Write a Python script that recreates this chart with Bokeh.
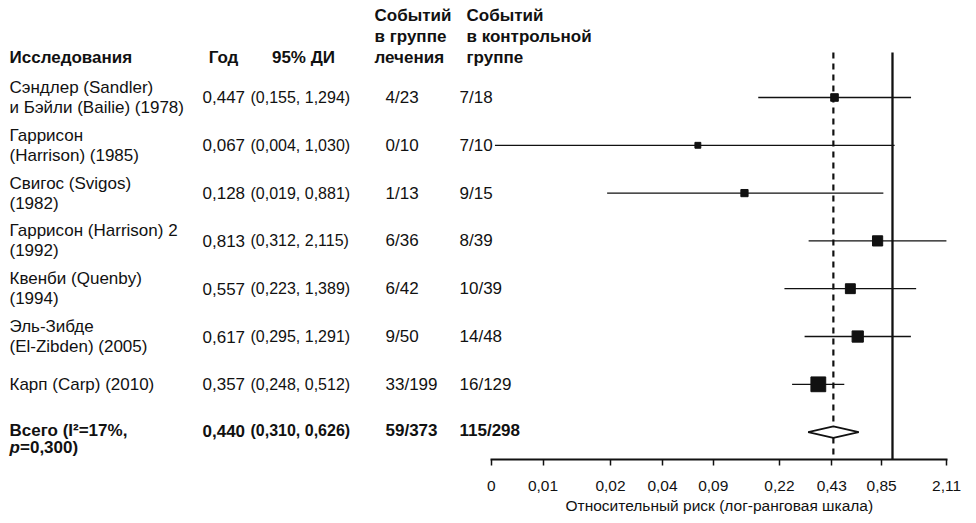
import math
from bokeh.plotting import figure
from bokeh.models import Range1d, FixedTicker, ColumnDataSource, LinearScale, Title
from bokeh.embed import file_html
from bokeh.resources import INLINE
from bokeh.core.properties import value

# ---------------- data ----------------
study_line1 = ["Сэндлер (Sandler)", "Гаррисон", "Свигос (Svigos)", "Гаррисон (Harrison) 2",
               "Квенби (Quenby)", "Эль-Зибде", "Карп (Carp) (2010)"]
study_line2 = ["и Бэйли (Bailie) (1978)", "(Harrison) (1985)", "(1982)", "(1992)",
               "(1994)", "(El-Zibden) (2005)", ""]
rr = [0.447, 0.067, 0.128, 0.813, 0.557, 0.617, 0.357]
ci_lo = [0.155, 0.004, 0.019, 0.312, 0.223, 0.295, 0.248]
ci_hi = [1.294, 1.030, 0.881, 2.115, 1.389, 1.291, 0.512]
events_trt = ["4/23", "0/10", "1/13", "6/36", "6/42", "9/50", "33/199"]
events_ctl = ["7/18", "7/10", "9/15", "8/39", "10/39", "14/48", "16/129"]
weights = [10, 6, 9, 18, 17, 22, 38]          # estimated relative study weights (%)

pooled_rr, pooled_lo, pooled_hi = 0.440, 0.310, 0.626
pooled_trt, pooled_ctl = "59/373", "115/298"
total_line1 = "Всего (I²=17%,"
total_p_letter = "p"
total_p_rest = "=0,300)"

head_study = "Исследования"
head_rr = "Год"
head_ci = "95% ДИ"
head_trt = ["Событий", "в группе", "лечения"]
head_ctl = ["Событий", "в контрольной", "группе"]

tick_pos = [0.0038, 0.0078, 0.0199, 0.041, 0.083, 0.208, 0.43, 0.86, 2.12]
tick_labels = ["0", "0,01", "0,02", "0,04", "0,09", "0,22", "0,43", "0,85", "2,11"]
x_title = "Относительный риск (лог-ранговая шкала)"

# ---------------- layout constants ----------------
FONT = value("Liberation Sans")
FS = "17px"
INK = "#111111"
n = len(rr)
total_row = n

FRAME_W, FRAME_H = 947, 459
BORDER_R, BORDER_B = 20, 62
PX_PER_LN = 72.0
X_MIN, X_MAX = 0.00376, 2.147            # visible axis extent
x_start = X_MAX * math.exp(-FRAME_W / PX_PER_LN)   # log range reaching the frame's left edge
TITLE_OFFSET = 565                       # left edge of the axis title, px

y_rng = Range1d(start=7.573, end=-2.029)
HEAD_Y = [-1.715, -1.276, -0.837]
X_NAME, X_RR, X_CI, X_TRT, X_CTL = 9, 202, 250, 385, 459
X_HEAD_RR, X_HEAD_CI, X_HEAD_TRT, X_HEAD_CTL = 223, 303, 374, 466


def fmt(v):
    return f"{v:.3f}".replace(".", ",")


rows = list(range(n))

p = figure(width=FRAME_W + BORDER_R, height=FRAME_H + BORDER_B, x_axis_type="log",
           x_range=Range1d(x_start, X_MAX), y_range=y_rng,
           output_backend="svg", toolbar_location=None,
           min_border_left=0, min_border_right=BORDER_R, min_border_top=0,
           min_border_bottom=BORDER_B)
p.extra_x_ranges = {"tbl": Range1d(0, FRAME_W)}
p.extra_x_scales = {"tbl": LinearScale()}
p.yaxis.visible = False
p.grid.visible = False
p.outline_line_color = None


def txt(xs, ys, texts, style="normal", align="left", size=FS):
    p.text(x=xs, y=ys, text=texts, text_font=FONT, text_font_size=size,
           text_font_style=style, text_align=align, text_baseline="middle",
           text_color=INK, x_range_name="tbl")


# headers
txt([X_NAME], [HEAD_Y[2]], [head_study], "bold")
txt([X_HEAD_RR], [HEAD_Y[2]], [head_rr], "bold", "center")
txt([X_HEAD_CI], [HEAD_Y[2]], [head_ci], "bold", "center")
txt([X_HEAD_TRT] * 3, HEAD_Y, head_trt, "bold")
txt([X_HEAD_CTL] * 3, HEAD_Y, head_ctl, "bold")

# study names
n1y, n2x, n2y, n2t = [], [], [], []
for i in rows:
    if study_line2[i]:
        n1y.append(i - 0.21)
        n2x.append(X_NAME); n2y.append(i + 0.21); n2t.append(study_line2[i])
    else:
        n1y.append(i)
txt([X_NAME] * n, n1y, study_line1)
txt(n2x, n2y, n2t)

# numeric columns
txt([X_RR] * n, rows, [fmt(v) for v in rr])
txt([X_CI] * n, rows, [f"({fmt(a)}, {fmt(b)})" for a, b in zip(ci_lo, ci_hi)], size="16px")
txt([X_TRT] * n, rows, events_trt)
txt([X_CTL] * n, rows, events_ctl)

# total row
ty = total_row - 0.03
txt([X_NAME], [ty], [total_line1], "bold")
txt([X_NAME], [ty + 0.36], [total_p_letter], "bold italic")
txt([X_NAME + 10.5], [ty + 0.36], [total_p_rest], "bold")
txt([X_RR], [ty], [fmt(pooled_rr)], "bold")
txt([X_CI], [ty], [f"({fmt(pooled_lo)}, {fmt(pooled_hi)})"], "bold", size="16px")
txt([X_TRT], [ty], [pooled_trt], "bold")
txt([X_CTL], [ty], [pooled_ctl], "bold")

# ---------------- forest part ----------------
ax = p.xaxis[0]
ax.bounds = (X_MIN, X_MAX)
ax.ticker = FixedTicker(ticks=tick_pos)
ax.major_label_overrides = dict(zip(tick_pos, tick_labels))
ax.minor_tick_line_color = None
ax.major_tick_in = 0
ax.major_tick_out = 6
ax.major_tick_line_width = 1.5
ax.axis_line_width = 2
ax.axis_line_color = INK
ax.major_tick_line_color = INK
ax.major_label_text_font = "Liberation Sans"
ax.major_label_text_font_size = "15.5px"
ax.major_label_text_color = INK
ax.major_label_standoff = 15

# axis title, placed under the visible axis extent
p.add_layout(Title(text=x_title, align="left", offset=TITLE_OFFSET, standoff=2,
                   text_font="Liberation Sans", text_font_size="15.5px",
                   text_font_style="normal", text_color=INK), "below")

top_y = -0.94
bot_y = y_rng.start

# reference line (RR = 1) and pooled estimate line
p.segment(x0=[1.0], y0=[top_y], x1=[1.0], y1=[bot_y], line_color=INK, line_width=2.3)
p.segment(x0=[pooled_rr], y0=[top_y], x1=[pooled_rr], y1=[bot_y], line_color=INK,
          line_width=2.2, line_dash="6 5")

# CIs and squares
src = ColumnDataSource(dict(y=rows, rr=rr, lo=ci_lo, hi=ci_hi,
                            size=[2.4 * w ** 0.5 for w in weights]))
p.segment(x0="lo", y0="y", x1="hi", y1="y", source=src, line_color=INK, line_width=1.3)
p.scatter(x="rr", y="y", size="size", marker="square", source=src,
          fill_color=INK, line_color=INK)

# pooled diamond
dh = 0.12
p.patch(x=[pooled_lo, pooled_rr, pooled_hi, pooled_rr],
        y=[total_row, total_row - dh, total_row, total_row + dh],
        fill_color="white", line_color=INK, line_width=1.8)

open("out.html", "w").write(file_html(p, INLINE))
